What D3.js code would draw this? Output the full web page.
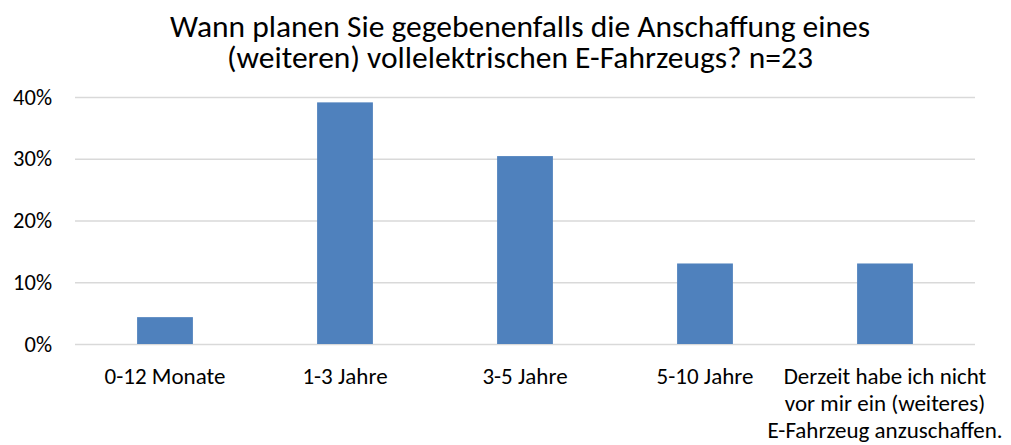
<!DOCTYPE html>
<html>
<head>
<meta charset="utf-8">
<script src="https://cdn.jsdelivr.net/npm/d3@7"></script>
<style>
  body { margin: 0; background: #fff; }
  svg { font-family: Carlito, Calibri, Lato, sans-serif; }
  .grid line { stroke: #d9d9d9; stroke-width: 1.3; }
  .grid .domain { display: none; }
</style>
</head>
<body>
<svg id="chart"></svg>
<script>
const titleLines = [
  "Wann planen Sie gegebenenfalls die Anschaffung eines",
  "(weiteren) vollelektrischen E-Fahrzeugs? n=23"
];
const categories = [
  ["0-12 Monate"],
  ["1-3 Jahre"],
  ["3-5 Jahre"],
  ["5-10 Jahre"],
  ["Derzeit habe ich nicht", "vor mir ein (weiteres)", "E-Fahrzeug anzuschaffen."]
];
const values = [0.0435, 0.3913, 0.3043, 0.1304, 0.1304];
const yTicks = [0, 0.1, 0.2, 0.3, 0.4];

const width = 1011, height = 445;
const margin = { top: 97, right: 36, bottom: 101, left: 75 };
const innerW = width - margin.left - margin.right;
const innerH = height - margin.top - margin.bottom;

const svg = d3.select("#chart").attr("width", width).attr("height", height);

svg.selectAll("text.title")
  .data(titleLines)
  .enter().append("text")
  .attr("class", "title")
  .attr("x", 520)
  .attr("y", (d, i) => 37 + i * 31)
  .attr("text-anchor", "middle")
  .attr("font-size", 31.5)
  .attr("fill", "#000")
  .text(d => d);

const g = svg.append("g").attr("transform", `translate(${margin.left},${margin.top})`);

const x = d3.scaleBand().domain(categories.map((d, i) => i)).range([0, innerW]).paddingInner(0.69).paddingOuter(0.345);
const y = d3.scaleLinear().domain([0, 0.4]).range([innerH, 0]);

g.append("g").attr("class", "grid")
  .call(d3.axisLeft(y).tickValues(yTicks).tickSize(-innerW).tickFormat(""));

g.append("g")
  .call(d3.axisLeft(y).tickValues(yTicks).tickSize(0).tickPadding(23).tickFormat(d3.format(".0%")))
  .call(a => a.select(".domain").remove())
  .call(a => a.attr("font-size", null).attr("font-family", null))
  .selectAll("text").attr("font-size", 22.5).attr("fill", "#000");

g.selectAll("rect.bar")
  .data(values)
  .enter().append("rect")
  .attr("class", "bar")
  .attr("x", (d, i) => x(i))
  .attr("width", x.bandwidth())
  .attr("y", d => y(d))
  .attr("height", d => innerH - y(d))
  .attr("fill", "#4f81bd");

const labels = g.selectAll("text.cat")
  .data(categories)
  .enter().append("text")
  .attr("class", "cat")
  .attr("text-anchor", "middle")
  .attr("font-size", 23)
  .attr("fill", "#000")
  .attr("transform", (d, i) => `translate(${x(i) + x.bandwidth() / 2},${innerH + 40})`);

labels.selectAll("tspan")
  .data(d => d)
  .enter().append("tspan")
  .attr("x", 0)
  .attr("y", (d, i) => i * 27)
  .text(d => d);
</script>
</body>
</html>
